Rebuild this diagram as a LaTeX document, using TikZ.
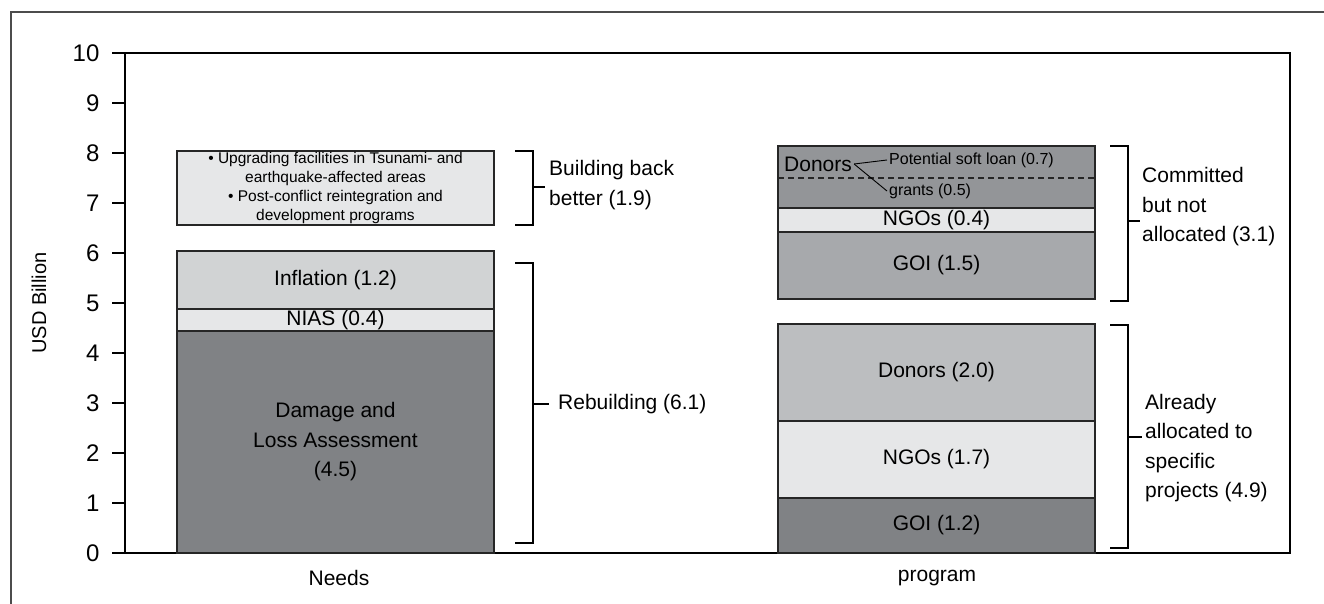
\documentclass[tikz,border=0pt]{standalone}
\usepackage{fontspec}
\setmainfont{Liberation Sans}
\usetikzlibrary{positioning}
\definecolor{darkgrey}{HTML}{808285}
\definecolor{midgrey}{HTML}{A7A9AC}
\definecolor{donorgrey}{HTML}{939598}
\definecolor{lightgrey}{HTML}{BCBEC0}
\definecolor{palegrey}{HTML}{D1D3D4}
\definecolor{whitegrey}{HTML}{E6E7E8}
\tikzstyle{bar} = [rectangle, draw=black!85, line width=1.2pt, anchor=south west, inner sep=0pt, outer sep=0pt, minimum width=317pt, text centered, align=center, font=\fontsize{21}{29.5}\selectfont]
\tikzstyle{bracket} = [line width=2.3pt]
\tikzstyle{brlabel} = [anchor=west, inner sep=0pt, align=left, font=\fontsize{21}{29.5}\selectfont]
\tikzstyle{small} = [anchor=west, inner sep=2pt, font=\fontsize{16}{19}\selectfont]

\begin{document}
\begin{tikzpicture}[x=1pt, y=-1pt]
\useasboundingbox (0,0) rectangle (1324,604);
%frame
\draw[black!70, line width=1.5pt] (11,604) -- (11,12) -- (1324,12);
\draw[line width=1.4pt] (125,53) rectangle (1290,553);
\foreach \v in {0,...,10}
  \draw[line width=1.2pt] (112,{553-50*\v}) -- (125,{553-50*\v}) node[anchor=east, inner sep=0pt, xshift=-25pt, font=\fontsize{24}{24}\selectfont] {\v};
\node[rotate=90, font=\fontsize{20}{20}\selectfont] (ylab) at (39,303) {USD Billion};

%Needs
\node[bar, fill=darkgrey, minimum height=222pt] (dla) at (177,553) {Damage and\\Loss Assessment\\(4.5)};
\node[bar, fill=whitegrey, minimum height=22pt, above=0pt of dla] (nias) {NIAS (0.4)};
\node[bar, fill=palegrey, minimum height=58pt, above=0pt of nias] (infl) {Inflation (1.2)};
\node[bar, fill=whitegrey, minimum height=74pt, font=\fontsize{15.5}{19}\selectfont] (bbb) at (177,225) {\textbullet\ Upgrading facilities in Tsunami- and\\earthquake-affected areas\\\textbullet\ Post-conflict reintegration and\\development programs};
\node[font=\fontsize{21}{21}\selectfont] (needs) at (339,578) {Needs};

%program
\node[bar, fill=darkgrey, minimum height=55pt] (goiA) at (778,553) {GOI (1.2)};
\node[bar, fill=whitegrey, minimum height=77pt, above=0pt of goiA] (ngoA) {NGOs (1.7)};
\node[bar, fill=lightgrey, minimum height=97pt, above=0pt of ngoA] (donA) {Donors (2.0)};
\node[bar, fill=midgrey, minimum height=67pt] (goiB) at (778,299) {GOI (1.5)};
\node[bar, fill=whitegrey, minimum height=24pt, above=0pt of goiB] (ngoB) {NGOs (0.4)};
\node[bar, fill=donorgrey, minimum height=62pt, above=0pt of ngoB] (donB) {};
\draw[black!85, line width=1.2pt, dash pattern=on 6pt off 4pt] ([yshift=-32pt]donB.north west) -- ([yshift=-32pt]donB.north east);
\node[anchor=west, inner sep=2pt, font=\fontsize{21}{21}\selectfont] (donlbl) at (782,164) {Donors};
\node[small] (loan) at (887,160) {Potential soft loan (0.7)};
\node[small] (grant) at (887,191) {grants (0.5)};
\draw[line width=0.9pt] (donlbl.east) -- (loan.west);
\draw[line width=0.9pt] (donlbl.east) -- (grant.west);
\node[font=\fontsize{21}{21}\selectfont] (prog) at (937,578) {program};

%brackets
\coordinate (bbbm) at (545,187);
\coordinate (rbm) at (549,404);
\coordinate (cbm) at (1140,221);
\coordinate (abm) at (1142,437);
\draw[bracket] (515,151) -- (533,151) -- (533,225) -- (515,225);
\draw[bracket] (533,187) -- (bbbm);
\node[brlabel] (bbbl) at (549,185) {Building back\\better (1.9)};
\draw[bracket] (515,263) -- (533,263) -- (533,543) -- (515,543);
\draw[bracket] (533,404) -- (rbm);
\node[brlabel] (rbl) at (558,404) {Rebuilding (6.1)};
\draw[bracket] (1110,146) -- (1128,146) -- (1128,301) -- (1110,301);
\draw[bracket] (1128,221) -- (cbm);
\node[brlabel] (cbl) at (1142,207) {Committed\\but not\\allocated (3.1)};
\draw[bracket] (1110,325) -- (1128,325) -- (1128,548) -- (1110,548);
\draw[bracket] (1128,437) -- (abm);
\node[brlabel] (abl) at (1145,448) {Already\\allocated to\\specific\\projects (4.9)};
\end{tikzpicture}
\end{document}
